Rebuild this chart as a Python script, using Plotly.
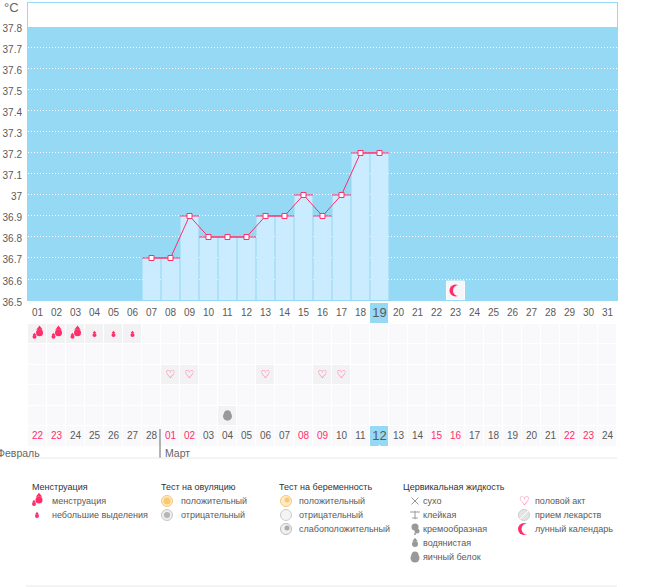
import plotly.graph_objects as go

# chart values
days = list(range(1, 32))
day_labels = ["%02d" % d for d in days]
date_labels = ["22", "23", "24", "25", "26", "27", "28", "01", "02", "03", "04", "05", "06", "07", "08", "09",
               "10", "11", "12", "13", "14", "15", "16", "17", "18", "19", "20", "21", "22", "23", "24"]
red_dates = [1, 2, 8, 9, 15, 16, 22, 23, 29, 30]
temp_days = [7, 8, 9, 10, 11, 12, 13, 14, 15, 16, 17, 18, 19]
temps = [36.7, 36.7, 36.9, 36.8, 36.8, 36.8, 36.9, 36.9, 37.0, 36.9, 37.0, 37.2, 37.2]
y_ticks = [36.5, 36.6, 36.7, 36.8, 36.9, 37.0, 37.1, 37.2, 37.3, 37.4, 37.5, 37.6, 37.7, 37.8]
today = 19
moon_days = [23]
heavy_days = [1, 2, 3]
light_days = [4, 5, 6]
sex_days = [8, 9, 13, 16, 17]
egg_days = [11]

legend_headers = ["Менструация", "Тест на овуляцию", "Тест на беременность", "Цервикальная жидкость"]
legend_mens = ["менструация", "небольшие выделения"]
legend_ovul = ["положительный", "отрицательный"]
legend_preg = ["положительный", "отрицательный", "слабоположительный"]
legend_fluid = ["сухо", "клейкая", "кремообразная", "водянистая", "яичный белок"]
legend_other = ["половой акт", "прием лекарств", "лунный календарь"]

W, H = 655, 587
BLUE = "#96d9f5"
PINK = "#ff2d6a"
GREY = "#999999"
FONT = "Liberation Sans"
TEXT = "#5a5a5a"
TILE = "#f6f6f8"


def px_x(v):
    return v / W


def px_y(v):
    return 1 - v / H


fig = go.Figure()

# temperature chart
fig.add_trace(go.Bar(x=temp_days, y=[t - 36.5 for t in temps], base=36.5, width=0.94,
                     marker=dict(color="#cbecfe", line_width=0), hoverinfo="skip"))
fig.add_trace(go.Bar(x=moon_days, y=[0.09], base=36.5, width=0.94,
                     marker=dict(color=TILE, line=dict(color="white", width=1)), hoverinfo="skip"))
fig.add_trace(go.Scatter(x=temp_days, y=temps, mode="lines+markers",
                         line=dict(color=PINK, width=1),
                         marker=dict(symbol="square", size=5, color="white", line=dict(color=PINK, width=1)),
                         error_x=dict(type="constant", value=0.5, thickness=1, width=0, color=PINK),
                         hoverinfo="skip"))

# tiles: row 0 is the day row, rows 1-5 the symptoms, row 6 the dates
tile_z = []
for row in range(7):
    tile_z.append([1 if row > 0 else 0 for d in days])
for d in heavy_days + light_days:
    tile_z[1][d - 1] = 2
for d in sex_days:
    tile_z[3][d - 1] = 2
for d in egg_days:
    tile_z[5][d - 1] = 2
tile_z[0][today - 1] = 3
tile_z[6][today - 1] = 3
fig.add_trace(go.Heatmap(x=days, y=list(range(7)), z=tile_z, xaxis="x", yaxis="y2", xgap=1, ygap=1,
                         zmin=0, zmax=3, showscale=False, hoverinfo="skip",
                         colorscale=[[0, "#ffffff"], [0.25, "#ffffff"], [0.25, "#f9f9fb"], [0.5, "#f9f9fb"],
                                     [0.5, "#f2f2f4"], [0.75, "#f2f2f4"], [0.75, BLUE], [1, BLUE]]))
fig.add_trace(go.Scatter(x=days, y=[0] * 31, mode="text", text=day_labels, xaxis="x", yaxis="y2",
                         textfont=dict(family=FONT, color=TEXT, size=[13 if d == today else 10 for d in days]),
                         hoverinfo="skip"))
fig.add_trace(go.Scatter(x=days, y=[6] * 31, mode="text", text=date_labels, xaxis="x", yaxis="y2",
                         textfont=dict(family=FONT, size=[13 if d == today else 10 for d in days],
                                       color=[PINK if d in red_dates else TEXT for d in days]),
                         hoverinfo="skip"))
fig.add_trace(go.Scatter(x=[today], y=[6.47], mode="markers", xaxis="x", yaxis="y2",
                         marker=dict(symbol="triangle-up", size=4, color="white"), hoverinfo="skip"))


# small icons are built from stacked markers; ux/uy = axis units per pixel
def dots(xs, ys, symbol, size, color, xa, ya, line=None):
    fig.add_trace(go.Scatter(x=xs, y=ys, mode="markers", xaxis=xa, yaxis=ya, hoverinfo="skip",
                             marker=dict(symbol=symbol, size=size, color=color, line=line or dict(width=0))))


def drop(xs, ys, s, color, xa, ya, ux, uy):
    dots(xs, ys, "circle", s, color, xa, ya)
    dots(xs, [y - uy * s * 0.65 for y in ys], "triangle-up", s * 0.8, color, xa, ya)


def flame(xs, ys, color, xa, ya, ux, uy):
    drop([x + 2 * ux for x in xs], [y - uy for y in ys], 7, color, xa, ya, ux, uy)
    drop([x - 3 * ux for x in xs], [y + 3 * uy for y in ys], 4, color, xa, ya, ux, uy)


def moon(xs, ys, back, xa, ya, ux):
    dots(xs, ys, "circle", 12, PINK, xa, ya)
    dots([x + 3 * ux for x in xs], ys, "circle", 11, back, xa, ya)


RX, RY = 1 / 19, 7 / 144
moon(moon_days, [36.545], TILE, "x", "y", RX)
flame(heavy_days, [1] * 3, PINK, "x", "y2", RX, RY)
drop(light_days, [1.05] * 3, 4, PINK, "x", "y2", RX, RY)
fig.add_trace(go.Scatter(x=sex_days, y=[3] * 5, mode="text", text=["♡"] * 5, xaxis="x", yaxis="y2",
                         textfont=dict(family="DejaVu Sans", size=11, color=PINK), hoverinfo="skip"))
dots(egg_days, [5], "circle", 9, GREY, "x", "y2")
dots(egg_days, [4.88], "circle", 7, GREY, "x", "y2")

# legend icons live on an overlay axis counted in page pixels
ROWS = [501, 515, 529, 543, 557]
COLS = dict(mens=37, ovul=167, preg=286, fluid=415, other=524)
flame([COLS["mens"]], [ROWS[0]], PINK, "x3", "y3", 1, 1)
drop([COLS["mens"]], [ROWS[1] + 1], 4, PINK, "x3", "y3", 1, 1)

dots([COLS["ovul"]], [ROWS[0]], "circle", 11, "#fdeccb", "x3", "y3", dict(color="#f7c873", width=1))
dots([COLS["ovul"]], [ROWS[0]], "circle", 7, "#f9c870", "x3", "y3")
dots([COLS["ovul"]], [ROWS[1]], "circle", 11, "#eeeeee", "x3", "y3", dict(color="#c8c8c8", width=1))
dots([COLS["ovul"]], [ROWS[1]], "circle", 6, "#b5b5b5", "x3", "y3")

dots([COLS["preg"]], [ROWS[0]], "circle", 11, "#fdeccb", "x3", "y3", dict(color="#f7c873", width=1))
dots([COLS["preg"] + 1], [ROWS[0] - 1], "circle", 5, "#f9c870", "x3", "y3")
dots([COLS["preg"]], [ROWS[1]], "circle", 11, "#f4f4f4", "x3", "y3", dict(color="#cccccc", width=1))
dots([COLS["preg"]], [ROWS[2]], "circle", 11, "#f0f0f0", "x3", "y3", dict(color="#bbbbbb", width=1))
dots([COLS["preg"] + 1], [ROWS[2] - 1], "circle", 5, "#aaaaaa", "x3", "y3")

dots([COLS["fluid"]], [ROWS[0]], "x-thin", 7, GREY, "x3", "y3", dict(color=GREY, width=1))
dots([COLS["fluid"]], [ROWS[1] - 3], "line-ew", 7, GREY, "x3", "y3", dict(color=GREY, width=1))
dots([COLS["fluid"]], [ROWS[1]], "line-ns", 6, GREY, "x3", "y3", dict(color=GREY, width=1))
dots([COLS["fluid"]], [ROWS[1] + 3], "line-ew", 4, GREY, "x3", "y3", dict(color=GREY, width=1))
dots([COLS["fluid"]], [ROWS[2] - 2], "circle", 7, GREY, "x3", "y3")
dots([COLS["fluid"] + 2], [ROWS[2] + 2], "circle", 5, GREY, "x3", "y3")
dots([COLS["fluid"]], [ROWS[2] + 5], "circle", 2, GREY, "x3", "y3")
drop([COLS["fluid"]], [ROWS[3] + 1], 6, GREY, "x3", "y3", 1, 1)
dots([COLS["fluid"]], [ROWS[4] + 1], "circle", 9, GREY, "x3", "y3")
dots([COLS["fluid"]], [ROWS[4] - 2], "circle", 7, GREY, "x3", "y3")

dots([COLS["other"]], [ROWS[1]], "circle", 11, "#e4e4e4", "x3", "y3", dict(color="#cfcfcf", width=1))
dots([COLS["other"]], [ROWS[1]], "line-ne", 8, "white", "x3", "y3", dict(color="white", width=1))
moon([COLS["other"]], [ROWS[2]], "white", "x3", "y3", 1)

notes = []


def note(x, y, text, size=9, color=TEXT, anchor="left", family=FONT):
    notes.append(dict(x=x, y=y, xref="x3", yref="y3", text=text, showarrow=False, xanchor=anchor, yanchor="middle",
                      font=dict(family=family, size=size, color=color)))


note(COLS["other"], ROWS[0], "♡", 12, PINK, "center", "DejaVu Sans")
note(21, 7, "°C", 13, "#666666", "right")
note(42, 453, "Февраль", 10.5, "#666666", "right")
note(163, 453, "Март", 10.5, "#666666")
for x, text in zip([30, 159, 277, 401], legend_headers):
    note(x, 487, text, 9, "#333333")
for x, labels in zip([50, 179, 297, 421, 533], [legend_mens, legend_ovul, legend_preg, legend_fluid, legend_other]):
    for y, text in zip(ROWS, labels):
        note(x, y, text)

fig.update_layout(
    width=W, height=H, margin=dict(l=0, r=0, t=0, b=0, autoexpand=False), showlegend=False, barmode="overlay",
    paper_bgcolor="white", plot_bgcolor="rgba(0,0,0,0)", annotations=notes,
    xaxis=dict(domain=[px_x(28), px_x(617)], range=[0.5, 31.5], showgrid=False, zeroline=False,
               showticklabels=False, ticks="", anchor="y", showline=True, mirror=True, linecolor=BLUE),
    yaxis=dict(domain=[px_y(300), px_y(3)], range=[36.5, 37.914], tickvals=y_ticks,
               ticktext=["%.1f" % v if v != 37.0 else "37" for v in y_ticks], ticks="outside", ticklen=3,
               tickcolor="rgba(0,0,0,0)", tickfont=dict(family=FONT, size=10, color=TEXT), ticklabelshift=2,
               showgrid=True, gridcolor="white", griddash="1px,2px", gridwidth=1, zeroline=False,
               showline=True, mirror=True, linecolor=BLUE),
    yaxis2=dict(domain=[px_y(447), px_y(303)], range=[6.5, -0.5], visible=False, anchor="x"),
    xaxis3=dict(domain=[0, 1], range=[0, W], visible=False, anchor="y3"),
    yaxis3=dict(domain=[0, 1], range=[H, 0], visible=False, anchor="x3"),
    shapes=[
        dict(type="rect", xref="x", yref="y", x0=0.5, x1=31.5, y0=36.5, y1=37.8, layer="below",
             fillcolor=BLUE, line_width=0),
        dict(type="line", xref="x3", yref="y3", x0=160, x1=160, y0=429, y1=458, line=dict(color="#666666", width=1)),
        dict(type="line", xref="x3", yref="y3", x0=27, x1=617, y0=458, y1=458, line=dict(color="#e8e8e8", width=1)),
        dict(type="line", xref="x3", yref="y3", x0=26, x1=617, y0=586, y1=586, line=dict(color="#e8e8e8", width=1)),
    ],
)

fig.write_html("out.html", config={"displayModeBar": False, "responsive": False},
               default_width=W, default_height=H, post_script="document.body.style.margin='0';")
